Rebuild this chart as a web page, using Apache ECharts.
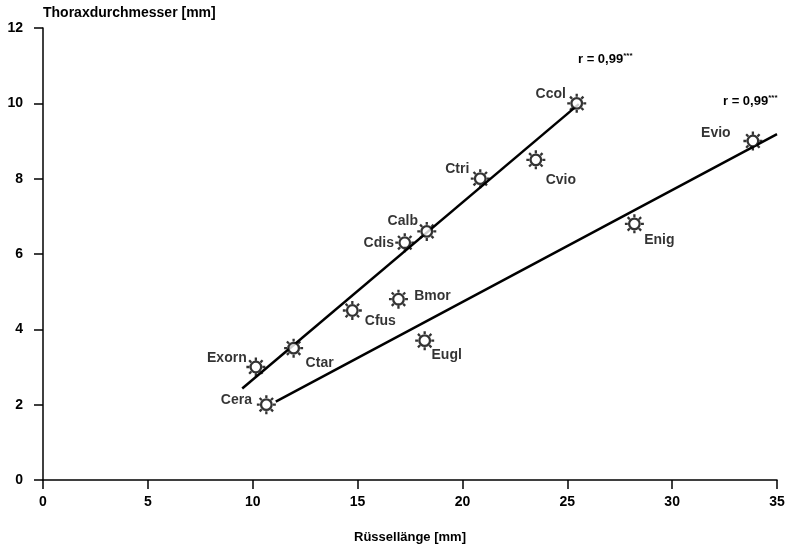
<!DOCTYPE html>
<html>
<head>
<meta charset="utf-8">
<script src="https://cdn.jsdelivr.net/npm/echarts@6/dist/echarts.min.js"></script>
<style>
  html, body { margin: 0; padding: 0; background: #fff; }
  #chart { width: 793px; height: 549px; }
</style>
</head>
<body>
<div id="chart"></div>
<script>
// Species abbreviations with proboscis length (mm) and thorax diameter (mm)
const species = ['Ccol', 'Evio', 'Ctri', 'Cvio', 'Enig', 'Calb', 'Cdis', 'Bmor', 'Cfus', 'Eugl', 'Ctar', 'Exorn', 'Cera'];
const ruesselLaenge = [25.45, 33.85, 20.85, 23.5, 28.2, 18.3, 17.25, 16.95, 14.75, 18.2, 11.95, 10.15, 10.65];
const thoraxDurchmesser = [10.0, 9.0, 8.0, 8.5, 6.8, 6.6, 6.3, 4.8, 4.5, 3.7, 3.5, 3.0, 2.0];

// Regression lines (x start/end, y start/end)
const lineC = { x: [9.5, 25.55], y: [2.43, 9.98] };
const lineE = { x: [11.1, 35.0], y: [2.08, 9.18] };
const rLabel = 'r = 0,99';

// Axis ticks
const xTicks = [0, 5, 10, 15, 20, 25, 30, 35];
const yTicks = [0, 2, 4, 6, 8, 10, 12];

// Label offsets (px) for each species name, relative to its marker centre
const labelOffset = {
  Ccol: [-26, -9], Evio: [-37, -8], Ctri: [-23, -10], Cvio: [25, 20],
  Enig: [25, 16], Calb: [-24, -10], Cdis: [-26, 0], Bmor: [34, -3],
  Cfus: [28, 11], Eugl: [22, 15], Ctar: [26, 15], Exorn: [-29, -9], Cera: [-30, -5]
};

// Sun-like marker: ring with eight short rays
function sunPath() {
  const c = 10, r = 5.3, r1 = 6.6, r2 = 9.5;
  let p = `M ${c + r} ${c} A ${r} ${r} 0 1 1 ${c - r} ${c} A ${r} ${r} 0 1 1 ${c + r} ${c} Z `;
  for (let i = 0; i < 8; i++) {
    const a = i * Math.PI / 4;
    const x1 = c + r1 * Math.cos(a), y1 = c + r1 * Math.sin(a);
    const x2 = c + r2 * Math.cos(a), y2 = c + r2 * Math.sin(a);
    p += `M ${x1.toFixed(2)} ${y1.toFixed(2)} L ${x2.toFixed(2)} ${y2.toFixed(2)} `;
  }
  return 'path://' + p;
}

const FONT = '"Liberation Sans", Arial, sans-serif';

const scatterData = species.map((name, i) => ({
  name: name,
  value: [ruesselLaenge[i], thoraxDurchmesser[i]],
  label: { offset: labelOffset[name] }
}));

const rich = {
  a: { fontFamily: FONT, fontWeight: 'bold', fontSize: 13, fill: '#000' },
  b: { fontFamily: FONT, fontWeight: 'bold', fontSize: 8, fill: '#000', verticalAlign: 'top', padding: [0, 0, 6, 0] }
};

const chart = echarts.init(document.getElementById('chart'), null, { renderer: 'canvas' });

chart.setOption({
  animation: false,
  backgroundColor: '#ffffff',
  grid: { left: 43, right: 16, top: 28, bottom: 69, containLabel: false },
  xAxis: {
    type: 'value', min: 0, max: 35, interval: 5,
    name: 'Rüssellänge [mm]', nameLocation: 'middle', nameGap: 51,
    nameTextStyle: { fontFamily: FONT, fontWeight: 'bold', fontSize: 13, color: '#000' },
    axisLine: { show: true, lineStyle: { color: '#000', width: 1.5 } },
    axisTick: { show: true, inside: false, length: 9, lineStyle: { color: '#000', width: 1.5 } },
    axisLabel: { fontFamily: FONT, fontWeight: 'bold', fontSize: 14, color: '#000', margin: 15,
      formatter: v => xTicks.includes(v) ? String(v) : '' },
    splitLine: { show: false }
  },
  yAxis: {
    type: 'value', min: 0, max: 12, interval: 2,
    name: 'Thoraxdurchmesser [mm]', nameLocation: 'end', nameGap: 8,
    nameTextStyle: { fontFamily: FONT, fontWeight: 'bold', fontSize: 14, color: '#000', align: 'left' },
    axisLine: { show: true, lineStyle: { color: '#000', width: 1.5 } },
    axisTick: { show: true, inside: false, length: 9, lineStyle: { color: '#000', width: 1.5 } },
    axisLabel: { fontFamily: FONT, fontWeight: 'bold', fontSize: 14, color: '#000', margin: 20,
      formatter: v => yTicks.includes(v) ? String(v) : '' },
    splitLine: { show: false }
  },
  series: [
    {
      type: 'line', data: lineC.x.map((x, i) => [x, lineC.y[i]]),
      symbol: 'none', lineStyle: { color: '#000', width: 2.5 }, z: 2, silent: true
    },
    {
      type: 'line', data: lineE.x.map((x, i) => [x, lineE.y[i]]),
      symbol: 'none', lineStyle: { color: '#000', width: 2.5 }, z: 2, silent: true
    },
    {
      type: 'scatter', data: scatterData, z: 3,
      symbol: sunPath(), symbolSize: 19,
      itemStyle: { color: '#ffffff', borderColor: '#000', borderWidth: 2.3 },
      label: {
        show: true, position: 'inside', formatter: p => p.name,
        fontFamily: FONT, fontWeight: 'bold', fontSize: 14, color: '#000',
        textBorderWidth: 0
      }
    }
  ],
  graphic: [
    { type: 'text', left: 578, top: 52, style: { text: '{a|' + rLabel + '}{b|***}', rich: rich } },
    { type: 'text', left: 723, top: 94, style: { text: '{a|' + rLabel + '}{b|***}', rich: rich } }
  ]
});
</script>
</body>
</html>
